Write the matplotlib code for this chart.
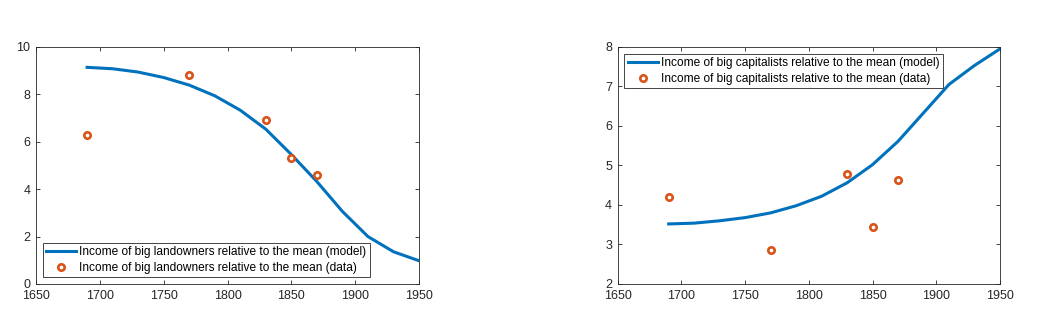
import numpy as np
import matplotlib.pyplot as plt

plt.rcParams['font.family'] = ['Liberation Sans', 'DejaVu Sans']
plt.rcParams['font.size'] = 9

# model points every 20 years
years_model = [1690, 1710, 1730, 1750, 1770, 1790, 1810, 1830, 1850, 1870,
               1890, 1910, 1930, 1950]
landowners_model = [9.14, 9.08, 8.94, 8.71, 8.39, 7.94, 7.33, 6.53, 5.46,
                    4.32, 3.06, 2.0, 1.36, 0.98]
capitalists_model = [3.52, 3.54, 3.60, 3.68, 3.80, 3.98, 4.22, 4.56, 5.02,
                     5.61, 6.33, 7.05, 7.53, 7.95]

# observed data
years_data = [1690, 1770, 1830, 1850, 1870]
landowners_data = [6.3, 8.8, 6.9, 5.3, 4.6]
capitalists_data = [4.2, 2.85, 4.78, 3.44, 4.64]

blue = '#0072BD'
orange = '#D95319'

fig = plt.figure(figsize=(10.5, 3.32), dpi=100)
ax1 = fig.add_axes([0.0343, 0.1446, 0.3648, 0.714])
ax2 = fig.add_axes([0.5883, 0.1446, 0.3640, 0.714])


def draw(ax, ymodel, ydata, who, ylim, yticks, loc):
    ax.plot(years_model, ymodel, color=blue, lw=2.2,
            label=f'Income of big {who} relative to the mean (model)')
    ax.plot(years_data, ydata, 'o', mfc='white', mec=orange, mew=1.9,
            ms=4.6, label=f'Income of big {who} relative to the mean (data)')
    ax.set_xlim(1650, 1950)
    ax.set_ylim(*ylim)
    ax.set_xticks(np.arange(1650, 1951, 50))
    ax.set_yticks(yticks)
    ax.tick_params(direction='in', top=True, right=True, length=3, pad=4,
                   colors='#262626', labelsize=9, width=0.6)
    for s in ax.spines.values():
        s.set_color('#262626')
        s.set_linewidth(0.6)
    leg = ax.legend(loc=loc, fancybox=False, framealpha=1, borderaxespad=0.55,
                    handlelength=2.5, handletextpad=0.25, borderpad=0.3,
                    labelspacing=0.3, fontsize=8.6)
    leg.get_frame().set_edgecolor('#262626')
    leg.get_frame().set_linewidth(0.6)


draw(ax1, landowners_model, landowners_data, 'landowners', (0, 10),
     np.arange(0, 11, 2), 'lower left')
draw(ax2, capitalists_model, capitalists_data, 'capitalists', (2, 8),
     np.arange(2, 9, 1), 'upper left')

fig.savefig('out.png', dpi=100)
